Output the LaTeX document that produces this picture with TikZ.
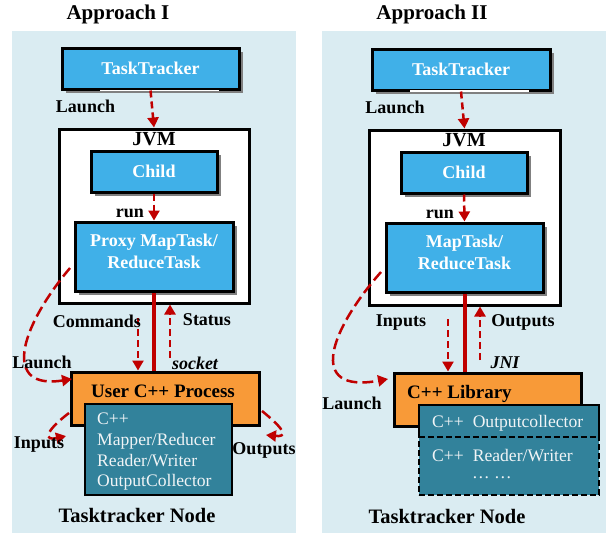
\documentclass[tikz,border=0pt]{standalone}
\usepackage{fontspec}
\setmainfont{Liberation Serif}
\usetikzlibrary{arrows.meta,shadows}

\definecolor{panelbg}{RGB}{218,236,242}
\definecolor{boxblue}{RGB}{64,176,232}
\definecolor{procorange}{RGB}{248,154,56}
\definecolor{libteal}{RGB}{50,130,155}
\definecolor{flowred}{RGB}{192,0,0}
\definecolor{shadowgray}{RGB}{128,128,128}
\definecolor{paletext}{RGB}{240,244,246}

\tikzset{
  panel/.style={fill=panelbg, draw=none},
  bluebox/.style={draw=black, line width=3pt, fill=boxblue, text=white,
    font=\fontsize{18}{22}\selectfont\bfseries, inner sep=0pt, align=center,
    drop shadow={shadow xshift=4pt, shadow yshift=-4pt, fill=shadowgray, opacity=1}},
  jvmbox/.style={draw=black, line width=3pt, fill=white, inner sep=0pt},
  procbox/.style={draw=black, line width=3pt, fill=procorange, inner sep=0pt},
  tealbox/.style={draw=black, line width=2pt, fill=libteal, inner sep=0pt},
  boxtext/.style={text=white, font=\fontsize{18}{22}\selectfont\bfseries, align=center, inner sep=0pt},
  tealtext/.style={text=paletext, font=\fontsize{17.6}{20.7}\selectfont, align=left, inner sep=0pt},
  lab/.style={font=\fontsize{18}{21}\selectfont\bfseries, inner sep=0pt, text height=12pt, text depth=0pt},
  itlab/.style={lab, font=\fontsize{18}{21}\selectfont\bfseries\itshape},
  title/.style={font=\fontsize{21}{25}\selectfont\bfseries, inner sep=0pt, text height=14pt, text depth=0pt},
  flow/.style={draw=flowred, line width=2.5pt, dash pattern=on 7pt off 4pt,
    -{Triangle[length=10pt,width=11pt]}},
  longflow/.style={flow, dash pattern=on 11pt off 5pt},
  pipe/.style={draw=flowred, line width=4pt},
}

\begin{document}
\begin{tikzpicture}[x=1pt,y=-1pt]
\useasboundingbox (0,0) rectangle (608,533);

% background panels
\fill[panelbg] (12,31) rectangle (296,533);
\fill[panelbg] (322,31) rectangle (606,533);

% ---------------- Approach I ----------------
\node[title] (titleA) at (118,12) {Approach I};

\node[bluebox, minimum width=177pt, minimum height=41pt] (ttA) at (150.5,68.5) {TaskTracker};
\draw[white, line width=1.5pt] (100,90.5) -- (219,90.5);
\node[lab] (launchA) at (85.5,106) {Launch};

\node[jvmbox, minimum width=190pt, minimum height=174pt] (jvmA) at (154,216) {};
\node[lab, font=\fontsize{20}{23}\selectfont\bfseries] (jvmlabA) at (154,139) {JVM};
\node[bluebox, minimum width=126pt, minimum height=41pt] (childA) at (154,171.5) {Child};
\node[lab] (runA) at (130,211) {run};
\node[bluebox, minimum width=158pt, minimum height=69pt] (proxyA) at (154,256.5) {};
\node[boxtext] (proxytxtA) at (154,251) {Proxy MapTask/\\ReduceTask};

\node[procbox, minimum width=188pt, minimum height=53pt] (userA) at (165,398.5) {};
\node[lab, font=\fontsize{19}{22}\selectfont\bfseries] (usertxtA) at (163,391) {User C++ Process};
\node[tealbox, minimum width=147pt, minimum height=91pt] (innerA) at (158.5,449.5) {};
\node[tealtext, anchor=north west] (innertxtA) at (97,413)
  {C++\\Mapper/Reducer\\Reader/Writer\\OutputCollector};

\draw[flow] (ttA.south) -- (jvmA.north);
\draw[flow] (childA.south) -- (proxyA.north);
\draw[pipe] (proxyA.south) -- (proxyA.south |- userA.north);

\coordinate (cmdA) at (138,318);
\coordinate (statA) at (170,358);
\draw[flow] (cmdA) -- (cmdA |- userA.north);
\draw[flow] (statA) -- (statA |- jvmA.south);
\node[lab] (cmdlabA) at (97,321) {Commands};
\node[lab] (statlabA) at (207,319) {Status};
\node[itlab] (socketA) at (195,363) {socket};

\coordinate (lstartA) at (70,268);
\coordinate (lendA) at (72,379);
\draw[longflow] (lstartA) .. controls (18,330) and (3,390) .. (lendA);
\node[lab] (launch2A) at (42,362) {Launch};

\coordinate (instartA) at (69,413);
\coordinate (inendA) at (66,436);
\draw[longflow] (instartA) .. controls (44,432) and (44,441) .. (inendA);
\node[lab] (inlabA) at (39,442) {Inputs};

\coordinate (outstartA) at (262,411);
\coordinate (outendA) at (266,435);
\draw[longflow] (outstartA) .. controls (288,432) and (286,437) .. (outendA);
\node[lab] (outlabA) at (264,448) {Outputs};

\node[title, font=\fontsize{20.5}{24}\selectfont\bfseries] (nodeA) at (137,515) {Tasktracker Node};

% ---------------- Approach II ----------------
\node[title] (titleB) at (432,12) {Approach II};

\node[bluebox, minimum width=178pt, minimum height=41pt] (ttB) at (461,69.5) {TaskTracker};
\draw[white, line width=1.5pt] (410,91) -- (529,91);
\node[lab] (launchB) at (395,107) {Launch};

\node[jvmbox, minimum width=191pt, minimum height=175pt] (jvmB) at (464.5,217.5) {};
\node[lab, font=\fontsize{20}{23}\selectfont\bfseries] (jvmlabB) at (464,140) {JVM};
\node[bluebox, minimum width=126pt, minimum height=41pt] (childB) at (464,172.5) {Child};
\node[lab] (runB) at (440,212) {run};
\node[bluebox, minimum width=157pt, minimum height=69pt] (mapB) at (464.5,257.5) {};
\node[boxtext] (maptxtB) at (464.5,252) {MapTask/\\ReduceTask};

\node[procbox, minimum width=187pt, minimum height=53pt] (libB) at (487.5,399.5) {};
\node[lab, font=\fontsize{19}{22}\selectfont\bfseries, anchor=west] (libtxtB) at (407,392) {C++ Library};

% collector strip and the dashed box of further classes
\node[tealbox, dashed, dash pattern=on 6pt off 3pt, minimum width=180pt, minimum height=90pt] (moreB) at (509,450) {};
\node[inner sep=0pt, minimum width=180pt, minimum height=32pt] (ocB) at (509,421) {};
\draw[black, line width=2pt] (ocB.south west) -- (ocB.north west) -- (ocB.north east) -- (ocB.south east);
\draw[black, line width=2pt, dash pattern=on 6pt off 3pt] (ocB.south west) -- (ocB.south east);
\node[tealtext, anchor=west] (octxtB) at (432,423) {C++\hspace{9pt}Outputcollector};
\node[tealtext, anchor=west] (rwtxtB) at (432,456) {C++\hspace{9pt}Reader/Writer};
\node[tealtext, anchor=west] (dotsB) at (472,478) {\dots\ \dots};

\draw[flow] (ttB.south) -- (jvmB.north);
\draw[flow] (childB.south) -- (mapB.north);
\draw[pipe] (mapB.south) -- (mapB.south |- libB.north);

\coordinate (inB) at (448,319);
\coordinate (outB) at (480,360);
\draw[flow] (inB) -- (inB |- libB.north);
\draw[flow] (outB) -- (outB |- jvmB.south);
\node[lab] (inlabB) at (401,320) {Inputs};
\node[lab] (outlabB) at (523,320) {Outputs};
\node[itlab] (jniB) at (505,362) {JNI};

\coordinate (lstartB) at (381,272);
\coordinate (lendB) at (388,379);
\draw[longflow] (lstartB) .. controls (330,330) and (306,394) .. (lendB);
\node[lab] (launch2B) at (352,403) {Launch};

\node[title, font=\fontsize{20.5}{24}\selectfont\bfseries] (nodeB) at (447,516) {Tasktracker Node};
\end{tikzpicture}
\end{document}
